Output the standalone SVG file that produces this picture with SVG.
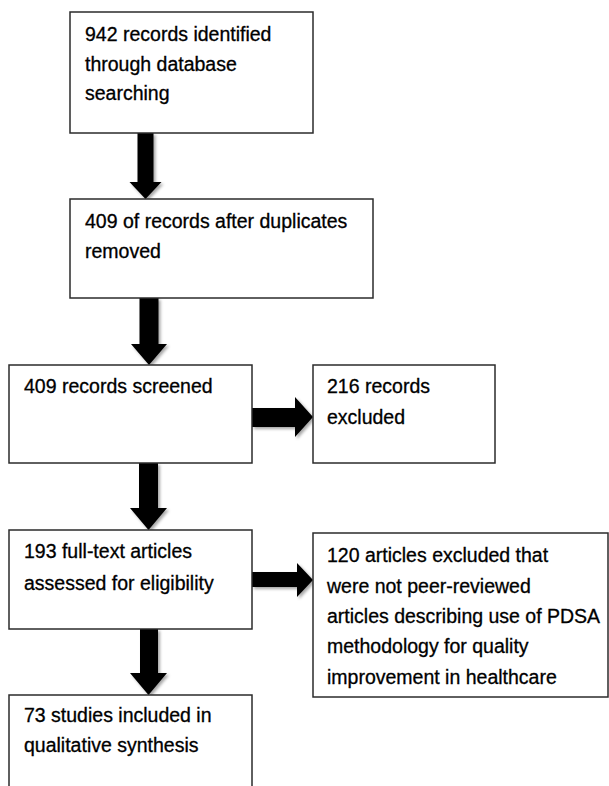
<svg xmlns="http://www.w3.org/2000/svg" width="609" height="786" viewBox="0 0 609 786">
<style>
.box{fill:#fff;stroke:#2b2b2b;stroke-width:1.5}
.t{font-family:"Liberation Sans",Arial,sans-serif;font-size:19.5px;fill:#000;stroke:#000;stroke-width:0.3}
.arr{fill:#000;filter:url(#sh)}
</style>
<defs>
<filter id="sh" x="-30%" y="-30%" width="160%" height="160%">
<feDropShadow dx="2" dy="2" stdDeviation="1.5" flood-color="#000" flood-opacity="0.35"/>
</filter>
</defs>
<rect width="609" height="786" fill="#fff"/>
<g id="connectors">
<polygon class="arr" points="137.5,133 153.5,133 153.5,182 161.5,182 145.5,199 129.5,182 137.5,182"/>
<polygon class="arr" points="139.5,298 158.5,298 158.5,344 167,344 149,365 131,344 139.5,344"/>
<polygon class="arr" points="139,463 158,463 158,508 167,508 148.5,530 130,508 139,508"/>
<polygon class="arr" points="140,629 158,629 158,673 167,673 148.5,695 130,673 140,673"/>
<polygon class="arr" points="252,408 295,408 295,397 313,417 295,437 295,427 252,427"/>
<polygon class="arr" points="252,572 297,572 297,563 313,580 297,597 297,587 252,587"/>
</g>
<g id="n1">
<rect class="box" x="70" y="12" width="243" height="121"/>
<text class="t" x="85" y="41">942 records identified</text>
<text class="t" x="85" y="71">through database</text>
<text class="t" x="85" y="100">searching</text>
</g>
<g id="n2">
<rect class="box" x="70" y="199" width="303" height="99"/>
<text class="t" x="85" y="228">409 of records after duplicates</text>
<text class="t" x="85" y="258">removed</text>
</g>
<g id="n3">
<rect class="box" x="9" y="365" width="243" height="98"/>
<text class="t" x="24" y="393">409 records screened</text>
</g>
<g id="n4">
<rect class="box" x="313" y="365" width="182" height="98"/>
<text class="t" x="327" y="393">216 records</text>
<text class="t" x="327" y="424">excluded</text>
</g>
<g id="n5">
<rect class="box" x="9" y="530" width="243" height="99"/>
<text class="t" x="24" y="558">193 full-text articles</text>
<text class="t" x="24" y="590">assessed for eligibility</text>
</g>
<g id="n6">
<rect class="box" x="313" y="533" width="295" height="164"/>
<text class="t" x="327" y="562">120 articles excluded that</text>
<text class="t" x="327" y="593">were not peer-reviewed</text>
<text class="t" x="327" y="623">articles describing use of PDSA</text>
<text class="t" x="327" y="653">methodology for quality</text>
<text class="t" x="327" y="684">improvement in healthcare</text>
</g>
<g id="n7">
<rect class="box" x="9" y="695" width="243" height="110"/>
<text class="t" x="24" y="722">73 studies included in</text>
<text class="t" x="24" y="752">qualitative synthesis</text>
</g>
</svg>
